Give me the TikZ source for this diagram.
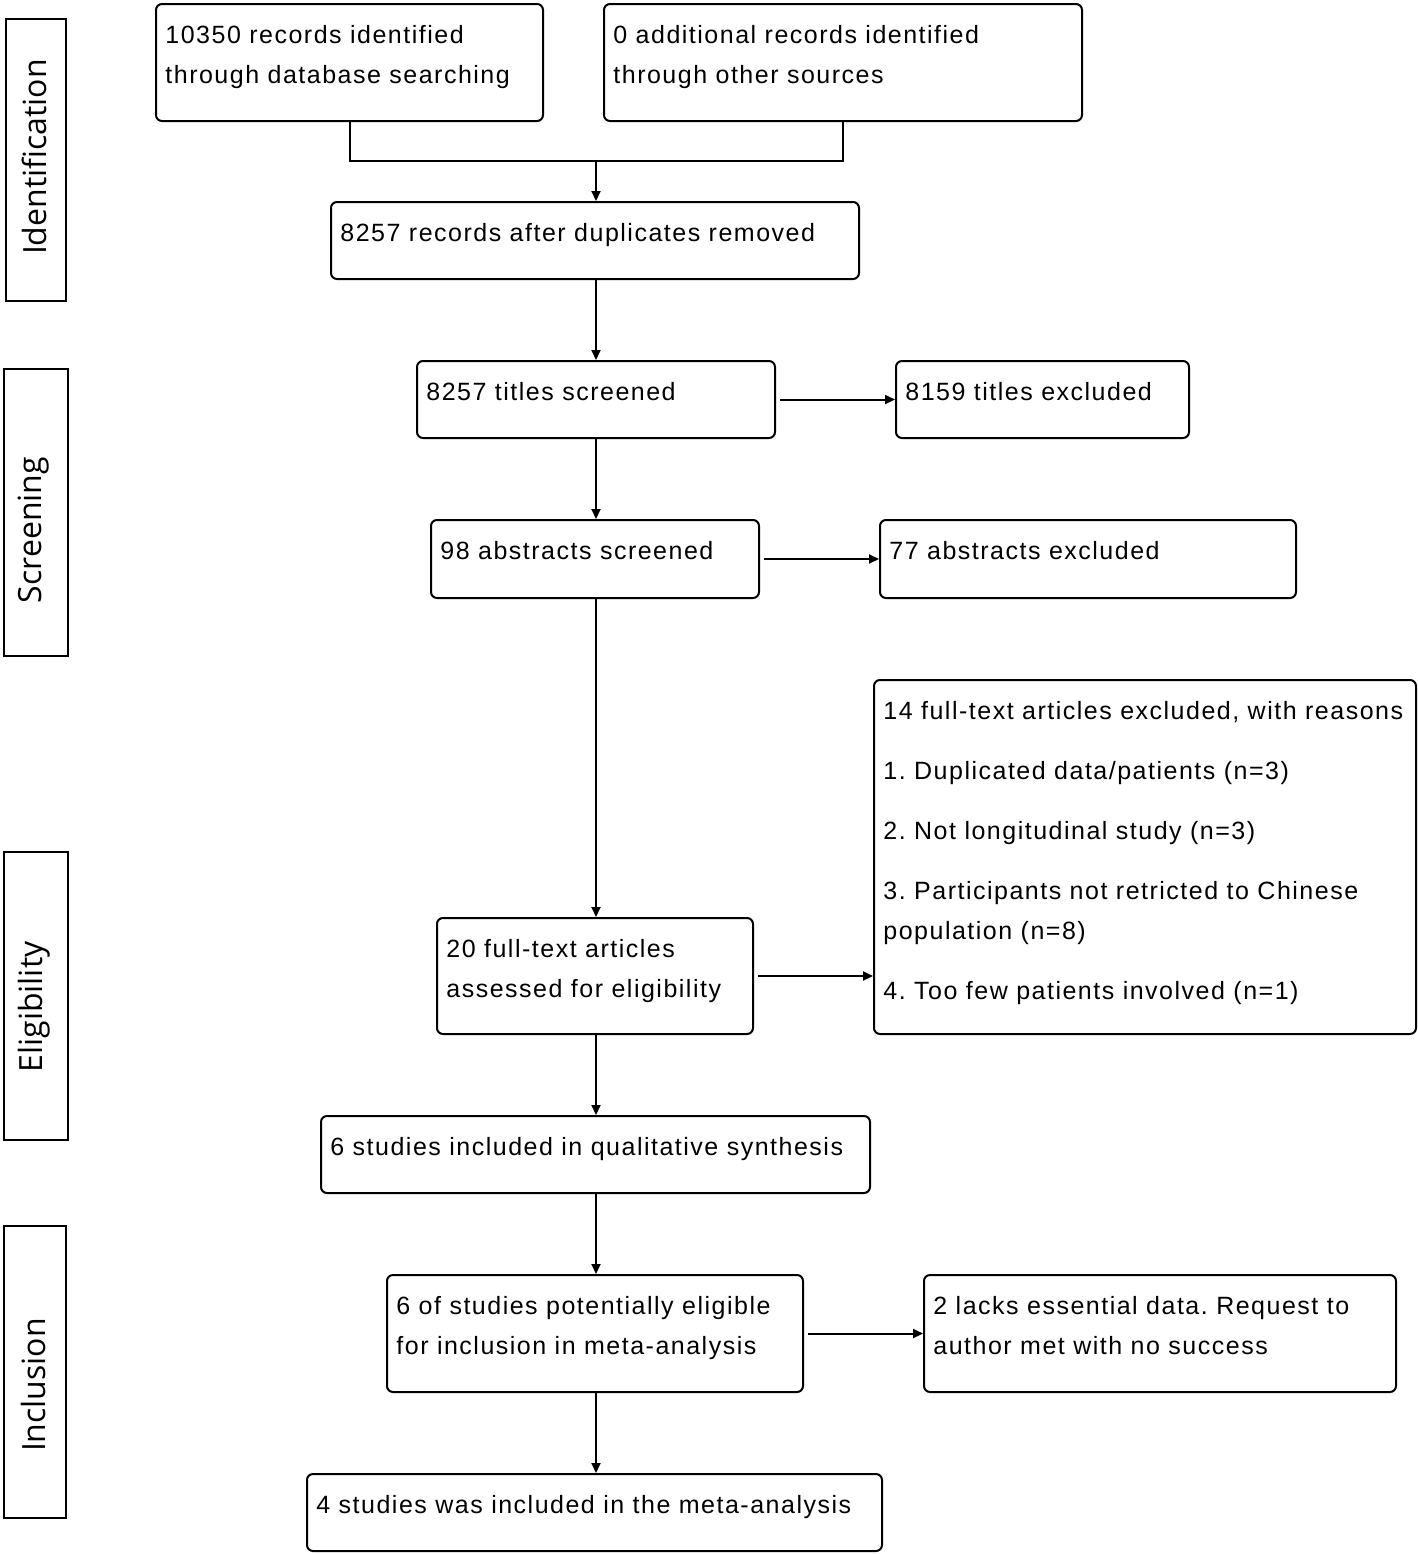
\documentclass[tikz,border=0pt]{standalone}
\usepackage{fontspec}
\setmainfont{Liberation Sans}[LetterSpace=6]
\newfontfamily\sidefont{Open Sans}
\usetikzlibrary{arrows.meta}
\frenchspacing

\tikzset{
  x=0.5pt, y=-0.5pt,
  box/.style={draw, line width=1pt, rounded corners=3pt, anchor=north west, inner sep=0pt},
  sidebox/.style={draw, line width=1pt, anchor=north west, inner sep=0pt},
  txt/.style={anchor=base west, inner sep=0pt, font=\fontsize{12.5pt}{20pt}\selectfont\frenchspacing},
  sidetxt/.style={rotate=90, inner sep=0pt, font=\sidefont\fontsize{16pt}{19pt}\selectfont},
  conn/.style={line width=1pt},
  arr/.style={line width=1pt, -{Triangle[length=5pt,width=4.5pt]}},
}

% name, x, y, w, h, text
\newcommand\flowbox[6]{%
  \node[box, minimum width=#4*0.5pt, minimum height=#5*0.5pt] (#1) at (#2,#3) {};
  \node[txt] (#1t) at ([xshift=5pt,yshift=-20pt]#1.north west)
    {\begin{tabular}[t]{@{}l@{}}#6\end{tabular}};
}
% name, x, y, w, h, text, text centre y
\newcommand\sidebox[7]{%
  \node[sidebox, minimum width=#4*0.5pt, minimum height=#5*0.5pt] (#1) at (#2,#3) {};
  \node[sidetxt] (#1t) at (34,#7) {#6};
}

\begin{document}
\begin{tikzpicture}
\useasboundingbox (0,0) rectangle (1418,1554);

% phase labels
\sidebox{s1}{5}{18}{60}{282}{Identification}{157}
\sidebox{s2}{3}{368}{64}{287}{Screening}{530}
\sidebox{s3}{3}{851}{64}{288}{Eligibility}{1007}
\sidebox{s4}{3}{1225}{62}{292}{Inclusion}{1385}

% boxes
\flowbox{A}{155}{3}{387}{117}{10350 records identified\\through database searching}
\flowbox{B}{603}{3}{478}{117}{0 additional records identified\\through other sources}
\flowbox{C}{330}{201}{528}{77}{8257 records after duplicates removed}
\flowbox{D}{416}{360}{358}{77}{8257 titles screened}
\flowbox{E}{895}{360}{293}{77}{8159 titles excluded}
\flowbox{F}{430}{519}{328}{78}{98 abstracts screened}
\flowbox{G}{879}{519}{416}{78}{77 abstracts excluded}
\flowbox{H}{436}{917}{316}{116}{20 full-text articles\\assessed for eligibility}
\flowbox{I}{873}{679}{542}{354}{14 full-text articles excluded, with reasons\\[10pt]1. Duplicated data/patients (n=3)\\[10pt]2. Not longitudinal study (n=3)\\[10pt]3. Participants not retricted to Chinese\\population (n=8)\\[10pt]4. Too few patients involved (n=1)}
\flowbox{J}{320}{1115}{549}{77}{6 studies included in qualitative synthesis}
\flowbox{K}{386}{1274}{416}{117}{6 of studies potentially eligible\\for inclusion in meta-analysis}
\flowbox{L}{923}{1274}{472}{117}{2 lacks essential data. Request to\\author met with no success}
\flowbox{M}{306}{1473}{575}{77}{4 studies was included in the meta-analysis}

% connectors
\coordinate (j) at (596,161);
\draw[conn] (A.south) |- (j) -| (B.south);
\draw[arr] (j) -- (C.north -| j);
\draw[arr] (C.south -| j) -- (D.north -| j);
\draw[arr] (D.south -| j) -- (F.north -| j);
\draw[arr] (F.south -| j) -- (H.north -| j);
\draw[arr] (H.south -| j) -- (J.north -| j);
\draw[arr] (J.south -| j) -- (K.north -| j);
\draw[arr] (K.south -| j) -- (M.north -| j);

\draw[arr] ([xshift=2pt]D.east) -- (E.west);
\draw[arr] ([xshift=2pt]F.east) -- (G.west);
\draw[arr] ([xshift=2pt]H.east) -- (H.east -| I.west);
\draw[arr] ([xshift=2pt]K.east) -- (L.west);
\end{tikzpicture}
\end{document}
